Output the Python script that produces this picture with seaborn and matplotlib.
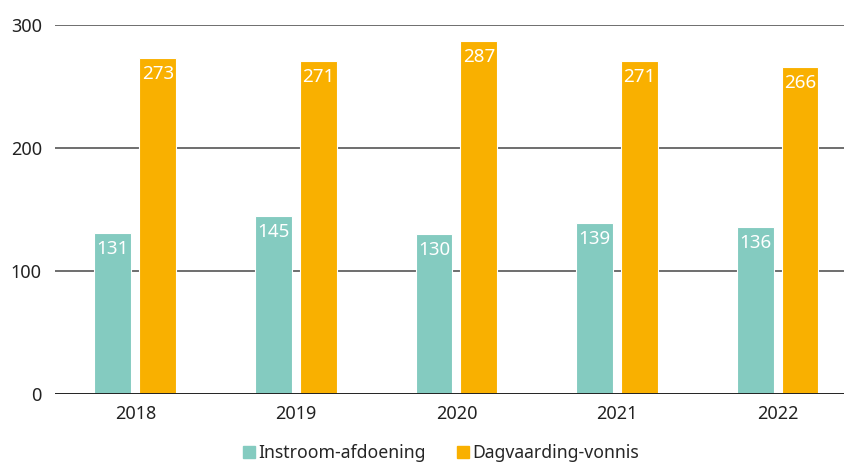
import matplotlib
matplotlib.use("Agg")
import matplotlib.pyplot as plt
import seaborn as sns
import pandas as pd

years = ["2018", "2019", "2020", "2021", "2022"]
instroom = [131, 145, 130, 139, 136]
dagvaarding = [273, 271, 287, 271, 266]
series = ["Instroom-afdoening", "Dagvaarding-vonnis"]
colors = ["#84cbc0", "#f9b000"]

df = pd.DataFrame({
    "jaar": years * 2,
    "waarde": instroom + dagvaarding,
    "reeks": [series[0]] * len(years) + [series[1]] * len(years),
})

sns.set_style("white")
plt.rcParams["font.family"] = ["Noto Sans", "DejaVu Sans"]

fig = plt.figure(figsize=(8.45, 4.63), dpi=100)
ax = fig.add_axes([55 / 845, 69 / 463, 1 - 55 / 845, (394 - 25) / 463])

sns.barplot(data=df, x="jaar", y="waarde", hue="reeks", palette=colors,
            saturation=1, width=0.56, gap=0.18, edgecolor="white",
            linewidth=0.8, ax=ax, zorder=3)

# gridlines
for v in [100, 200, 300]:
    ax.axhline(v, color="#6e6e6e", linewidth=1.4, zorder=1)
ax.axhline(0, color="#222222", linewidth=1.4, zorder=4)

# value labels inside the bar tops
for cont in ax.containers:
    ax.bar_label(cont, labels=[f"{int(b.get_height())}" for b in cont],
                 label_type="edge", padding=-18, color="white", fontsize=13.5)

ax.set_ylim(0, 300)
ax.set_xlim(-0.5, 4.42)
ax.set_yticks([0, 100, 200, 300])
ax.tick_params(axis="both", length=0, labelsize=13, colors="#222222")
ax.tick_params(axis="y", pad=9.5)
ax.tick_params(axis="x", pad=8)
ax.set_xlabel("")
ax.set_ylabel("")
for s in ax.spines.values():
    s.set_visible(False)

ax.legend_.remove()
handles = [plt.Rectangle((0, 0), 1, 1, color=c) for c in colors]
fig.legend(handles, series, loc="center", bbox_to_anchor=(0.522, 0.022),
           ncol=2, frameon=False, fontsize=12.7, handlelength=0.65,
           handleheight=0.65, handletextpad=0.2, columnspacing=1.8,
           borderpad=0)

fig.savefig("out.png", dpi=100)
